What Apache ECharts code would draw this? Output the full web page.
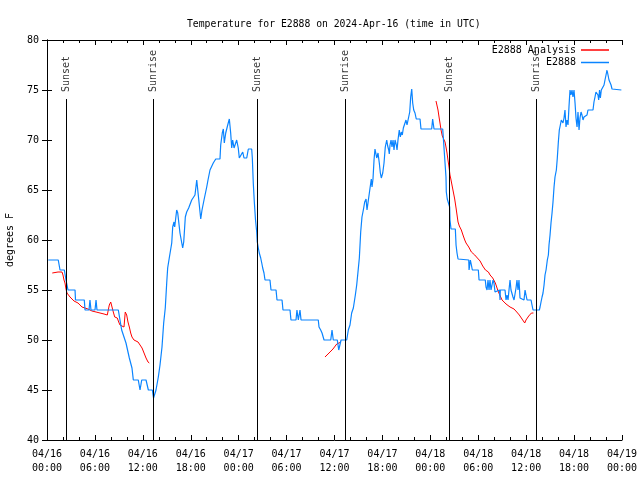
<!DOCTYPE html>
<html><head><meta charset="utf-8">
<script src="https://cdn.jsdelivr.net/npm/echarts@6/dist/echarts.min.js"></script>
<style>html,body{margin:0;padding:0;background:#fff}#c{width:640px;height:480px}</style>
</head><body><div id="c"></div>
<script>
const FONT = "'DejaVu Sans Mono', 'Liberation Mono', monospace";
const titleText = 'Temperature for E2888 on 2024-Apr-16 (time in UTC)';
const yAxisName = 'degrees F';
const monthLabel = '04';
const startDay = 16;
const stationName = 'E2888';
const analysisName = 'E2888 Analysis';

// [hours since 2024-04-16 00:00 UTC, degrees F]
const station = [
[0.16,58],[1.41,58],[1.63,57],[2.17,57],[2.38,56],[2.50,56],[2.63,55],[3.51,55],[3.57,54],[4.67,54],[4.76,53],[5.26,53],[5.38,54],[5.51,53],[6.01,53],[6.14,54],[6.26,53],[8.93,53],
[9.35,51],[9.89,49.7],[10.31,48.2],[10.64,47.2],[10.81,46],[11.43,46],[11.65,45],[11.86,46],[12.40,46],[12.69,45],[13.19,45],[13.34,44.2],[13.46,44.2],[13.65,45],[13.94,46.3],[14.15,47.5],[14.40,49.3],[14.61,51.7],
[14.81,53.2],[14.99,55.7],[15.11,57.2],[15.31,58.2],[15.62,59.7],[15.74,61.3],[15.90,61.8],[15.99,61.3],[16.24,63],[16.37,62.7],[16.65,60.7],[16.99,59.2],[17.12,59.8],[17.32,62.3],[17.49,62.8],[17.74,63.2],
[18.12,64],[18.53,64.5],[18.75,66],[18.95,66.1],[19.25,62.1],[19.41,63],[19.66,64],[20.00,65.3],[20.16,66],[20.41,67],[20.62,67.2],[20.82,67.7],[21.13,68.1],[21.66,68.1],[21.75,69.5],[21.95,70.7],[22.08,71.1],
[22.20,69.7],[22.38,70.7],[22.63,71.5],[22.83,72.1],[23.00,70.7],[23.13,69.2],[23.25,70],[23.42,69.2],[23.75,70],[23.95,69.2],[24.08,68.2],[24.29,68.2],[24.51,68.8],[24.67,68.2],[25.01,68.2],[25.21,69.1],[25.63,69.1],
[25.71,68.2],[25.83,65.7],[25.96,63.8],[26.11,62],[26.26,60.8],[26.33,59.8],[26.46,59.2],[26.58,58.7],[26.76,58.2],[26.89,57.7],[27.01,57.2],[27.17,56.7],[27.30,56],[27.92,56],[28.05,55],[28.68,55],[28.80,54],
[29.43,54],[29.55,53],[30.43,53],[30.55,52],[31.18,52],[31.30,53],[31.47,52],[31.68,53],[31.81,52],[33.97,52],[34.06,51.3],[34.27,51],[34.44,50.7],[34.69,50],[35.53,50],[35.69,51],[35.85,50],[36.35,50],
[36.53,49],[36.69,49],[36.82,50],[37.53,50],[37.73,51],[37.94,51.5],[38.15,52.7],[38.36,53.2],[38.61,54.5],[38.78,55.5],[38.94,56.8],[39.11,58.2],[39.28,60.8],[39.44,62.3],[39.61,63],[39.78,63.8],[39.95,64.1],
[40.07,63],[40.32,63],[40.45,65.2],[40.61,66.1],[40.70,65.3],[40.82,66.1],[40.95,68],[41.07,69.1],[41.29,68.2],[41.45,68.7],[41.61,67.7],[41.74,66.7],[41.86,66.2],[42.04,66.7],[42.20,67.7],[42.36,69.3],
[42.54,70],[42.66,69.4],[42.79,69],[42.86,68.6],[42.95,69.5],[43.08,70],[43.20,69.3],[43.33,70],[43.45,69],[43.58,70],[43.74,69.5],[43.83,69],[43.95,70],[44.11,71],[44.24,70.3],[44.37,70.8],[44.49,70.5],
[44.62,71.2],[44.83,71.2],[44.95,72],[45.08,71.5],[45.21,72],[45.42,72.8],[45.54,74.3],[45.67,75.1],[45.79,73.7],[45.92,73],[46.08,72.7],[46.24,72.1],[46.71,72.1],[46.83,71.1],[48.17,71.1],[48.29,72.1],
[48.46,71.1],[49.55,71.1],[49.62,70.3],[49.84,67.7],[49.96,66.3],[50.00,64.8],[50.12,64.1],[50.34,64.1],[50.42,63.3],[50.46,62],[50.59,61.1],[51.13,61.1],[51.22,59.5],[51.34,58.7],[51.47,58.1],[51.59,58],
[52.81,58],[52.85,57],[53.01,58],[53.14,57.5],[53.26,57],[54.01,57],[54.10,56],[54.88,56],[54.97,55.3],[55.10,55],[55.22,56],[55.35,55],[55.47,56],[55.60,55],[55.85,56],[55.97,55.7],[56.10,54.8],[56.35,55],
[56.66,55],[56.73,54],[56.76,55],[57.35,55],[57.48,54],[57.60,54.5],[57.73,54],[57.85,55],[57.98,56],[58.10,55],[58.23,55],[58.35,54.3],[58.48,54],[58.60,54],[58.73,55.2],[58.85,56],[58.98,55],[59.10,56],
[59.23,54.2],[59.73,54],[59.86,55],[59.98,54.5],[60.11,54],[60.61,54],[60.73,53.5],[60.86,53],[61.65,53],[61.74,53.3],[61.86,53.8],[61.99,54.3],[62.11,54.7],[62.24,55.5],[62.36,56.5],[62.49,57],[62.65,58],
[62.78,58.5],[62.86,59.5],[62.99,60.5],[63.11,61.7],[63.24,62.7],[63.36,63.8],[63.49,65.3],[63.61,66.3],[63.78,67],[63.90,68.2],[64.03,69.8],[64.15,71],[64.28,71.5],[64.40,72],[64.49,72.2],[64.61,71.7],
[64.74,72.2],[64.86,73],[64.99,71.3],[65.11,72],[65.24,71.5],[65.36,73.3],[65.49,75],[65.61,74.5],[65.74,75],[65.86,74.3],[65.99,75],[66.12,73.7],[66.24,72.2],[66.37,71.3],[66.49,72.8],[66.62,71],[66.74,72.2],
[66.87,72.8],[66.99,72.5],[67.12,72],[67.24,72.3],[67.62,72.5],[67.74,73],[68.37,73],[68.49,73.8],[68.62,74.3],[68.74,74.8],[68.87,75],[68.99,74.5],[69.08,74],[69.19,75],[69.29,74.2],[69.41,75],[69.62,75],
[69.75,75.5],[69.87,76],[70.00,76.5],[70.12,77],[70.25,76.5],[70.37,76],[70.54,76],[70.63,75.5],[70.75,75.1],[71.92,75]
];

const analysisA = [
[0.66,56.7],[1.38,56.8],[1.63,56.9],[1.88,56.8],[2.00,56.5],[2.13,56],[2.25,55.7],[2.38,55.1],[2.50,54.7],[2.63,54.5],[2.88,54.3],[3.13,54.2],[3.38,53.9],[3.63,53.8],[3.88,53.7],[4.13,53.5],[4.38,53.3],
[4.63,53.2],[5.13,53.1],[5.63,52.9],[6.14,52.8],[6.64,52.7],[7.14,52.6],[7.55,52.5],[7.80,53.5],[7.98,53.8],[8.14,53.3],[8.30,52.8],[8.48,52.3],[8.80,52.2],[8.98,51.8],[9.14,51.5],[9.39,51.3],[9.64,51.3],
[9.80,52.8],[9.98,52.5],[10.14,51.8],[10.31,51.3],[10.48,50.7],[10.64,50.3],[10.89,50],[11.14,49.9],[11.40,49.8],[11.65,49.7],[11.90,49.2],[12.15,48.7],[12.40,48.2],[12.65,47.8],[12.81,47.7]
];
const analysisB = [
[34.81,48.3],[35.44,48.8],[35.81,49.1],[36.28,49.6],[36.48,49.8],[36.82,49.8]
];
const analysisC = [
[48.71,73.9],[48.84,73.8],[48.96,73],[49.09,72.3],[49.21,71.7],[49.34,71],[49.50,70.4],[49.75,70.2],[49.84,69.8],[49.96,69.3],[50.09,68.7],[50.21,68],[50.34,67.3],[50.46,66.5],[50.59,66],[50.71,65.5],
[50.88,64.8],[51.05,64.1],[51.22,63.2],[51.38,62.3],[51.47,61.8],[51.63,61.4],[51.88,61],[52.13,60.4],[52.31,60],[52.47,59.7],[52.81,59.3],[53.14,58.8],[53.56,58.5],[53.89,58.2],[54.23,57.9],[54.56,57.4],
[54.90,57],[55.10,57],[55.27,56.8],[55.48,56.5],[55.81,56.2],[55.97,56.1],[56.14,55.7],[56.31,55.3],[56.48,54.9],[56.64,54.6],[56.81,54.3],[56.98,54],[57.15,53.8],[57.48,53.6],[57.98,53.3],[58.48,53.1],
[58.82,52.8],[59.14,52.5],[59.48,52.1],[59.82,51.7],[59.98,52],[60.32,52.4],[60.66,52.7],[60.91,52.7]
];

const sunHours = [2.42, 13.31, 26.33, 37.35, 50.38, 61.27];
const sunLabels = ['Sunset', 'Sunrise', 'Sunset', 'Sunrise', 'Sunset', 'Sunrise'];
const SUN_LINE_TOP = 74.1;
const SUN_LABEL_Y = 74.8;

const yMin = 40, yMax = 80, yStep = 5;
const xMin = 0, xMax = 72, xStep = 6;

const BLUE = '#0a84ff', RED = '#ff0000';

function xLabel(v) {
  const d = startDay + Math.floor(v / 24);
  const hh = v % 24;
  return monthLabel + '/' + String(d).padStart(2, '0') + '\n' + String(hh).padStart(2, '0') + ':00';
}

const axisCommon = {
  type: 'value', min: xMin, max: xMax, interval: xStep,
  axisLine: { show: true, lineStyle: { color: '#000', width: 1 } },
  axisTick: { show: true, inside: true, length: 5, lineStyle: { color: '#000' } },
  minorTick: { show: true, splitNumber: 3, length: 3, lineStyle: { color: '#000' } },
  splitLine: { show: false }
};

const chart = echarts.init(document.getElementById('c'), null, { renderer: 'canvas' });
chart.setOption({
  animation: false,
  backgroundColor: '#fff',
  textStyle: { fontFamily: FONT },
  title: {
    text: titleText, left: 182, top: 14,
    textStyle: { fontFamily: FONT, fontSize: 9.75, fontWeight: 'normal', color: '#000' }
  },
  grid: { left: 47, right: 18, top: 40, bottom: 40, containLabel: false, outerBoundsMode: 'none' },
  legend: {
    orient: 'vertical', align: 'right', right: 31, top: 44, padding: 0,
    itemWidth: 28, itemHeight: 1.5, itemGap: 0.5, icon: 'rect',
    data: [
      { name: analysisName, itemStyle: { color: RED } },
      { name: stationName, itemStyle: { color: BLUE } }
    ],
    textStyle: { fontFamily: FONT, fontSize: 10, color: '#000', lineHeight: 12 },
    selectedMode: false
  },
  xAxis: [
    Object.assign({}, axisCommon, {
      position: 'bottom',
      axisLabel: { show: true, formatter: xLabel, color: '#000', fontFamily: FONT, fontSize: 10, lineHeight: 14, margin: 7 }
    }),
    Object.assign({}, axisCommon, { position: 'top', axisLabel: { show: false } })
  ],
  yAxis: [
    {
      type: 'value', min: yMin, max: yMax, interval: yStep, position: 'left',
      name: yAxisName, nameLocation: 'middle', nameGap: 32, nameRotate: 90,
      nameTextStyle: { fontFamily: FONT, fontSize: 10, color: '#000' },
      axisLine: { show: true, lineStyle: { color: '#000', width: 1 } },
      axisTick: { show: true, inside: true, length: 5, lineStyle: { color: '#000' } },
      axisLabel: { color: '#000', fontFamily: FONT, fontSize: 10, margin: 8 },
      splitLine: { show: false }
    },
    {
      type: 'value', min: yMin, max: yMax, interval: yStep, position: 'right',
      axisLine: { show: true, lineStyle: { color: '#000', width: 1 } },
      axisTick: { show: true, inside: true, length: 5, lineStyle: { color: '#000' } },
      axisLabel: { show: false },
      splitLine: { show: false }
    }
  ],
  series: [
    {
      name: 'sun', type: 'scatter', symbolSize: 0, silent: true, z: 1,
      data: sunHours.map((h, i) => [h, SUN_LABEL_Y, sunLabels[i]]),
      label: {
        show: true, formatter: p => p.value[2], position: 'inside', rotate: 90,
        align: 'left', verticalAlign: 'middle',
        fontFamily: FONT, fontSize: 10, color: '#000'
      },
      markLine: {
        silent: true, symbol: ['none', 'none'], animation: false,
        label: { show: false },
        lineStyle: { color: '#000', width: 1, type: 'solid' },
        data: sunHours.map(h => [{ coord: [h, yMin] }, { coord: [h, SUN_LINE_TOP] }])
      }
    },
    { name: analysisName, type: 'line', data: analysisA, symbol: 'none', z: 2, lineStyle: { color: RED, width: 1 }, itemStyle: { color: RED } },
    { name: analysisName, type: 'line', data: analysisB, symbol: 'none', z: 2, lineStyle: { color: RED, width: 1 }, itemStyle: { color: RED } },
    { name: analysisName, type: 'line', data: analysisC, symbol: 'none', z: 2, lineStyle: { color: RED, width: 1 }, itemStyle: { color: RED } },
    { name: stationName, type: 'line', data: station, symbol: 'none', z: 3, lineStyle: { color: BLUE, width: 1.2 }, itemStyle: { color: BLUE } }
  ]
});
</script>
</body></html>
